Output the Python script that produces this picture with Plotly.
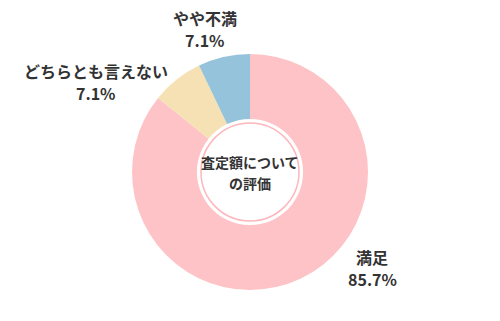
import plotly.graph_objects as go

labels = ["満足", "どちらとも言えない", "やや不満"]
values = [85.7, 7.1, 7.1]
colors = ["#fec3c7", "#f5e1b4", "#95c3db"]
center_lines = ["査定額について", "の評価"]

W, H = 500, 321
cx, cy, R = 250, 172, 118
FONT = "Noto Sans CJK JP"

fig = go.Figure(go.Pie(
    labels=labels, values=values, sort=False, direction="clockwise", rotation=0,
    hole=0.45, marker=dict(colors=colors, line=dict(width=0)),
    textinfo="none", hoverinfo="label+percent", showlegend=False,
    domain=dict(x=[(cx - R) / W, (cx + R) / W], y=[1 - (cy + R) / H, 1 - (cy - R) / H]),
))

r2 = 49
fig.add_shape(type="circle", xref="paper", yref="paper",
              x0=(cx - r2) / W, x1=(cx + r2) / W, y0=1 - (cy + r2) / H, y1=1 - (cy - r2) / H,
              line=dict(color="#fdb6bc", width=1.5), fillcolor="rgba(0,0,0,0)")


def txt(x, y, s, size):
    fig.add_annotation(x=x / W, y=1 - y / H, xref="paper", yref="paper",
                       xanchor="center", yanchor="middle",
                       text=f"<b>{s}</b>", showarrow=False,
                       font=dict(family=FONT, size=size, color="#333333"), align="center")


label_pos = [(372, 257), (96, 71), (205, 18)]
for lab, v, (x, y) in zip(labels, values, label_pos):
    txt(x, y, lab, 16)
    txt(x, y + 22, f"{v}%", 16)

txt(cx, 162, center_lines[0], 14)
txt(cx, 183, center_lines[1], 14)

fig.update_layout(width=W, height=H, margin=dict(l=0, r=0, t=0, b=0),
                  paper_bgcolor="white", plot_bgcolor="white")
fig.write_html("out.html")
